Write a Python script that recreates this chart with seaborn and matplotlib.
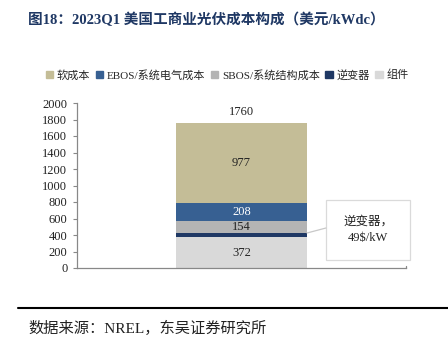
import matplotlib
matplotlib.use("Agg")
import matplotlib.pyplot as plt
import seaborn as sns
from matplotlib.lines import Line2D
from matplotlib.patches import Rectangle

sns.set_style("white")
plt.rcParams['font.family'] = ['Liberation Serif', 'Noto Sans CJK SC', 'DejaVu Sans']

category = ["2023Q1"]
series_names = ["组件", "逆变器", "SBOS/系统结构成本", "EBOS/系统电气成本", "软成本"]
series_values = [372, 49, 154, 208, 977]
series_colors = ["#D9D9D9", "#1F3864", "#B4B4B4", "#376092", "#C4BD97"]
label_colors = ["#222222", None, "#222222", "#FFFFFF", "#222222"]
total_label = "1760"
legend_order = ["软成本", "EBOS/系统电气成本", "SBOS/系统结构成本", "逆变器", "组件"]
y_ticks = [0, 200, 400, 600, 800, 1000, 1200, 1400, 1600, 1800, 2000]
title = "图18：2023Q1 美国工商业光伏成本构成（美元/kWdc）"
source = "数据来源：NREL，东吴证券研究所"
callout = "逆变器，\n49$/kW"

fig = plt.figure(figsize=(4.48, 3.48), dpi=100)
ax = fig.add_axes([77/448, 1-268/348, (406-77)/448, (268-103)/348])

bottom = 0
for name, val, col, lc in zip(series_names, series_values, series_colors, label_colors):
    sns.barplot(x=category, y=[val], bottom=bottom, color=col, width=0.4,
                ax=ax, saturation=1, linewidth=0)
    if lc is not None:
        ax.text(0, bottom + val/2, str(val), ha="center", va="center",
                fontsize=9, color=lc)
    bottom += val

ax.text(0, bottom + 60, total_label, ha="center", va="bottom", fontsize=9, color="#222222")

ax.set_ylim(0, 2000)
ax.set_xlim(-0.5, 0.5)
ax.set_yticks(y_ticks)
ax.set_yticklabels([str(t) for t in y_ticks], fontsize=9, color="#222222")
ax.set_xticks([])
ax.tick_params(axis="y", length=3, color="#888888", direction="out", pad=4, left=True)
for s in ["top", "right"]:
    ax.spines[s].set_visible(False)
for s in ["left", "bottom"]:
    ax.spines[s].set_color("#888888")
    ax.spines[s].set_linewidth(0.9)
ax.set_facecolor("white")

# category boundary tick at right end
ax.plot([0.5, 0.5], [0, 25], color="#888888", lw=0.9, clip_on=False)

# callout box
box_x0, box_x1 = 326/448, 410/448
box_y0, box_y1 = 1-260/348, 1-200/348
fig.patches.append(Rectangle((box_x0, box_y0), box_x1-box_x0, box_y1-box_y0,
                             transform=fig.transFigure, facecolor="white",
                             edgecolor="#DADADA", lw=0.9))
fig.text((box_x0+box_x1)/2, (box_y0+box_y1)/2, callout, ha="center", va="center",
         fontsize=9, color="#222222", linespacing=1.5)
fig.lines.append(Line2D([307/448, 326/448], [1-233/348, 1-228/348],
                        transform=fig.transFigure, color="#C8C8C8", lw=0.9))

# legend
handles = [Rectangle((0, 0), 1, 1, color=series_colors[series_names.index(n)]) for n in legend_order]
fig.legend(handles, legend_order, loc="center", bbox_to_anchor=(0.507, 1-75/348),
           ncol=5, frameon=False, fontsize=8, handlelength=0.7, handleheight=0.7,
           handletextpad=0.3, columnspacing=0.5, borderaxespad=0)

fig.text(28/448, 1-20/348, title, ha="left", va="center", fontsize=10.5,
         fontweight="bold", color="#1F3864")

fig.lines.append(Line2D([18/448, 1.0], [1-308/348, 1-308/348],
                        transform=fig.transFigure, color="black", lw=1.5))
fig.text(28/448, 1-328/348, source, ha="left", va="center", fontsize=11, color="#222222")

fig.savefig("out.png", dpi=100, facecolor="white")
